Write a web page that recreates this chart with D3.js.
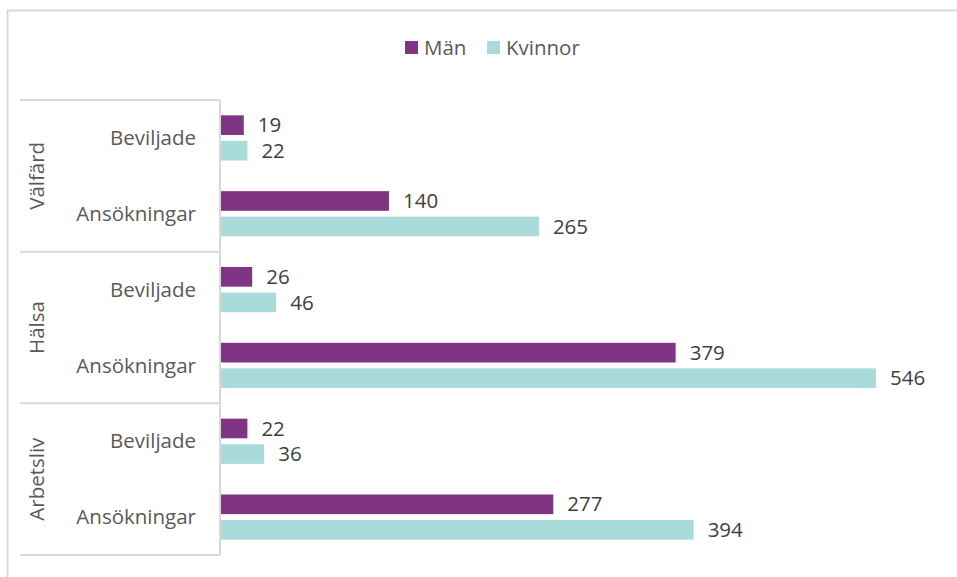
<!DOCTYPE html>
<html>
<head>
<meta charset="utf-8">
<script src="https://cdn.jsdelivr.net/npm/d3@7/dist/d3.min.js"></script>
<style>
  body { margin: 0; background: #fff; }
  text { font-family: "Open Sans", sans-serif; }
</style>
</head>
<body>
<div id="chart"></div>
<script>
// grouped horizontal bar chart, two levels of categories on the left

var groups = ["Välfärd", "Hälsa", "Arbetsliv"];
var subs = ["Beviljade", "Ansökningar"];
var series = ["Män", "Kvinnor"];
var colors = ["#7f3584", "#a9dbda"];

// values per group, in subs order
var manValues = [[19, 140], [26, 379], [22, 277]];
var kvinnorValues = [[22, 265], [46, 546], [36, 394]];

var width = 957, height = 577;
var plot = { left: 221, top: 100, bottom: 555 };
var fontSize = 20.5;

var svg = d3.select("#chart").append("svg")
  .attr("width", width)
  .attr("height", height);

// outer chart border (right/bottom edges fall outside the picture)
svg.append("rect")
  .attr("x", 7.5).attr("y", 10.5)
  .attr("width", 960).attr("height", 580)
  .attr("fill", "none")
  .attr("stroke", "#d9d9d9")
  .attr("stroke-width", 2);

var x = d3.scaleLinear().domain([0, 546]).range([plot.left, 876]);
var yGroup = d3.scaleBand().domain(groups).range([plot.top, plot.bottom]);
var ySub = d3.scaleBand().domain(subs).range([0, yGroup.bandwidth()]);
var ySeries = d3.scaleBand().domain(series).range([0, ySub.bandwidth()])
  .paddingInner(0.23).paddingOuter(0.6);

var color = d3.scaleOrdinal().domain(series).range(colors);

// flatten data
var rows = [];
groups.forEach(function(g, gi) {
  subs.forEach(function(s, si) {
    rows.push({ group: g, sub: s, series: "Män", value: manValues[gi][si] });
    rows.push({ group: g, sub: s, series: "Kvinnor", value: kvinnorValues[gi][si] });
  });
});

function barY(d) {
  return yGroup(d.group) + ySub(d.sub) + ySeries(d.series);
}

svg.append("g").selectAll("rect")
  .data(rows)
  .enter().append("rect")
  .attr("x", x(0))
  .attr("y", barY)
  .attr("width", function(d) { return x(d.value) - x(0); })
  .attr("height", ySeries.bandwidth())
  .attr("fill", function(d) { return color(d.series); });

// value labels
svg.append("g").selectAll("text")
  .data(rows)
  .enter().append("text")
  .attr("x", function(d) { return x(d.value) + 14; })
  .attr("y", function(d) { return barY(d) + ySeries.bandwidth() / 2; })
  .attr("dy", "0.35em")
  .attr("font-size", fontSize)
  .attr("fill", "#404040")
  .text(function(d) { return d.value; });

// axis line + category separators
var axisG = svg.append("g").attr("stroke", "#d9d9d9").attr("stroke-width", 2);
axisG.append("line")
  .attr("x1", plot.left - 1).attr("x2", plot.left - 1)
  .attr("y1", plot.top).attr("y2", plot.bottom);
axisG.selectAll(".sep")
  .data(groups.concat(["end"]))
  .enter().append("line")
  .attr("x1", 20).attr("x2", plot.left - 1)
  .attr("y1", function(d) { return d === "end" ? plot.bottom : yGroup(d); })
  .attr("y2", function(d) { return d === "end" ? plot.bottom : yGroup(d); });

// sub category labels
groups.forEach(function(g) {
  svg.append("g").selectAll("text")
    .data(subs)
    .enter().append("text")
    .attr("x", 196)
    .attr("y", function(s) { return yGroup(g) + ySub(s) + ySub.bandwidth() / 2; })
    .attr("dy", "0.35em")
    .attr("text-anchor", "end")
    .attr("font-size", fontSize)
    .attr("fill", "#595959")
    .text(function(s) { return s; });
});

// group labels, rotated
svg.append("g").selectAll("text")
  .data(groups)
  .enter().append("text")
  .attr("transform", function(g) {
    return "translate(37," + (yGroup(g) + yGroup.bandwidth() / 2) + ") rotate(-90)";
  })
  .attr("dy", "0.35em")
  .attr("text-anchor", "middle")
  .attr("font-size", fontSize)
  .attr("fill", "#595959")
  .text(function(g) { return g; });

// legend
var legend = svg.append("g").attr("transform", "translate(405,48)");
var legendX = [0, 82];
series.forEach(function(s, i) {
  var item = legend.append("g").attr("transform", "translate(" + legendX[i] + ",0)");
  item.append("rect")
    .attr("x", 0).attr("y", -7)
    .attr("width", 13).attr("height", 13)
    .attr("fill", color(s));
  item.append("text")
    .attr("x", 19).attr("y", 0)
    .attr("dy", "0.35em")
    .attr("font-size", fontSize)
    .attr("fill", "#595959")
    .text(s);
});
</script>
</body>
</html>
